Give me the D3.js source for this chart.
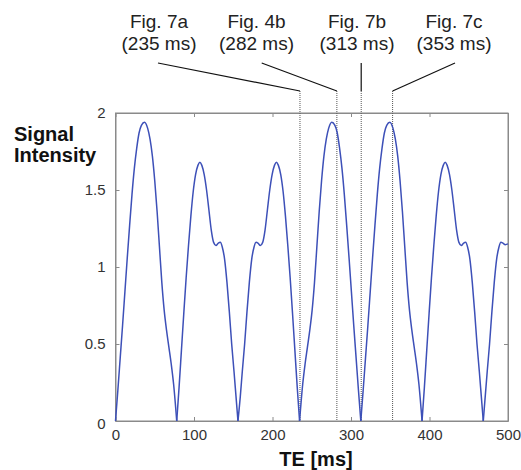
<!DOCTYPE html>
<html>
<head>
<meta charset="utf-8">
<script src="https://cdn.jsdelivr.net/npm/d3@7"></script>
<style>
  html, body { margin: 0; padding: 0; background: #fff; }
  svg { display: block; }
</style>
</head>
<body>
<svg id="chart" width="521" height="470"></svg>
<script>
// ---- data ----
const te = [
  0,3,6,9,12,15,18,21,24,27,30,33,37,41,44,47,50,53,56,59,62,65,68,71,74,78,
  81,84,87,90,93,96,99,102,105,107.5,110,113,116,119,122,125,128,131,133.5,136,139,142,145,148,151,153.5,156,
  159,161.5,164.5,167.5,170.5,173.5,176.5,179,181.5,184.5,187.5,190.5,193.5,196.5,199.5,202.5,205,207.5,210.5,213.5,216.5,219.5,222.5,225.5,228.5,231.5,234.5,
  238.5,241.5,244.5,247.5,250.5,253.5,256.5,259.5,262.5,265.5,268.5,271.5,275.5,279.5,282.5,285.5,288.5,291.5,294.5,297.5,300.5,303.5,306.5,309.5,312.5,
  315.5,318.5,321.5,324.5,327.5,330.5,333.5,336.5,339.5,342.5,345.5,349.5,353.5,356.5,359.5,362.5,365.5,368.5,371.5,374.5,377.5,380.5,383.5,386.5,390.5,
  393.5,396.5,399.5,402.5,405.5,408.5,411.5,414.5,417.5,420,422.5,425.5,428.5,431.5,434.5,437.5,440.5,443.5,446,448.5,451.5,454.5,457.5,460.5,463.5,466,468.5,
  471,473.5,476.5,479.5,482.5,485.5,488.5,491,493.5,496.5,500
];
const signal = [
  0,0.20,0.41,0.62,0.84,1.06,1.27,1.47,1.64,1.77,1.87,1.92,1.94,1.90,1.83,1.72,1.56,1.36,1.13,0.90,0.72,0.59,0.48,0.37,0.24,0,
  0.22,0.46,0.70,0.93,1.14,1.33,1.49,1.60,1.66,1.68,1.66,1.60,1.50,1.37,1.24,1.16,1.14,1.155,1.16,1.13,1.05,0.90,0.71,0.50,0.32,0.16,0,
  0.16,0.32,0.50,0.71,0.90,1.05,1.13,1.16,1.155,1.14,1.16,1.24,1.37,1.50,1.60,1.66,1.68,1.66,1.60,1.49,1.33,1.14,0.93,0.70,0.46,0.22,0,
  0.24,0.37,0.48,0.59,0.72,0.90,1.13,1.36,1.56,1.72,1.83,1.90,1.94,1.92,1.87,1.77,1.64,1.47,1.27,1.06,0.84,0.62,0.41,0.20,0,
  0.20,0.41,0.62,0.84,1.06,1.27,1.47,1.64,1.77,1.87,1.92,1.94,1.90,1.83,1.72,1.56,1.36,1.13,0.90,0.72,0.59,0.48,0.37,0.24,0,
  0.22,0.46,0.70,0.93,1.14,1.33,1.49,1.60,1.66,1.68,1.66,1.60,1.50,1.37,1.24,1.16,1.14,1.155,1.16,1.13,1.05,0.90,0.71,0.50,0.32,0.16,0,
  0.16,0.32,0.50,0.71,0.90,1.05,1.13,1.16,1.155,1.145,1.15
];
const xTicks = [0,100,200,300,400,500];
const yTicks = [0,0.5,1,1.5,2];
const yTickLabels = ["0","0.5","1","1.5","2"];
const markerTE = [235,282,313,353];
const markerFig = ["Fig. 7a","Fig. 4b","Fig. 7b","Fig. 7c"];
const markerLabel = ["(235 ms)","(282 ms)","(313 ms)","(353 ms)"];

// ---- layout ----
const svg = d3.select("#chart");
const L = 115.5, R = 508, T = 113, B = 421;
const x = d3.scaleLinear().domain([0,500]).range([L,R]);
const y = d3.scaleLinear().domain([0,2]).range([B,T]);
const axisColor = "#8a8a8a";
const textColor = "#222";
const tickFont = "15px 'Liberation Sans', Arial, sans-serif";

// frame
svg.append("rect").attr("x",L).attr("y",T).attr("width",R-L).attr("height",B-T)
  .attr("fill","none").attr("stroke",axisColor).attr("stroke-width",1);

// axes (inward ticks, mirrored)
const gx = svg.append("g").attr("transform",`translate(0,${B})`)
  .call(d3.axisBottom(x).tickValues(xTicks).tickSizeInner(-4).tickSizeOuter(0).tickPadding(8).tickFormat(d3.format("d")));
const gxt = svg.append("g").attr("transform",`translate(0,${T})`)
  .call(d3.axisTop(x).tickValues(xTicks).tickSizeInner(-4).tickSizeOuter(0).tickFormat(""));
const gy = svg.append("g").attr("transform",`translate(${L},0)`)
  .call(d3.axisLeft(y).tickValues(yTicks).tickSizeInner(-4).tickSizeOuter(0).tickPadding(10).tickFormat((d,i)=>yTickLabels[i]));
const gyr = svg.append("g").attr("transform",`translate(${R},0)`)
  .call(d3.axisRight(y).tickValues(yTicks).tickSizeInner(-4).tickSizeOuter(0).tickFormat(""));
[gx,gxt,gy,gyr].forEach(g=>{
  g.select(".domain").attr("stroke",axisColor);
  g.selectAll(".tick line").attr("stroke",axisColor);
  g.selectAll(".tick text").attr("fill","#333").style("font",tickFont);
});
gy.selectAll(".tick").filter(d=>d===0).select("text").attr("dy","0.5em");

// marker dotted lines
const lineTop = 91;
svg.append("g").selectAll("line").data(markerTE).join("line")
  .attr("x1",d=>x(d)).attr("x2",d=>x(d)).attr("y1",lineTop).attr("y2",B)
  .attr("stroke","#555").attr("stroke-width",1).attr("stroke-dasharray","1,1");

// connectors and labels
const labelCx = [159, 256.5, 357, 454];
const connStartX = [158, 261.7, x(313), 455];
svg.append("g").selectAll("line").data(markerTE).join("line")
  .attr("x1",(d,i)=>connStartX[i]).attr("y1",63)
  .attr("x2",d=>x(d)).attr("y2",lineTop)
  .attr("stroke","#111").attr("stroke-width",1.2);
const lab = svg.append("g").style("font","19px 'Liberation Sans', Arial, sans-serif").attr("fill",textColor).attr("text-anchor","middle");
markerTE.forEach((d,i)=>{
  lab.append("text").attr("x",labelCx[i]).attr("y",28).text(markerFig[i]);
  lab.append("text").attr("x",labelCx[i]).attr("y",50).text(markerLabel[i]);
});

// curve: split into lobes at zero points
const pts = te.map((t,i)=>[t,signal[i]]);
const segs = [];
let cur = [pts[0]];
for (let i=1;i<pts.length;i++){
  cur.push(pts[i]);
  if (pts[i][1]===0 && i<pts.length-1){ segs.push(cur); cur=[pts[i]]; }
}
segs.push(cur);
const line = d3.line().x(d=>x(d[0])).y(d=>y(d[1])).curve(d3.curveMonotoneX);
svg.append("g").selectAll("path").data(segs).join("path")
  .attr("d",line).attr("fill","none").attr("stroke","#3d50b8").attr("stroke-width",1.5)
  .attr("stroke-linejoin","round");

// axis titles
const bold = "bold 20px 'Liberation Sans', Arial, sans-serif";
svg.append("text").attr("x",14).attr("y",141).style("font",bold).attr("fill","#111").text("Signal");
svg.append("text").attr("x",14).attr("y",162).style("font",bold).attr("fill","#111").text("Intensity");
svg.append("text").attr("x",316).attr("y",466).attr("text-anchor","middle").style("font",bold).attr("fill","#111").text("TE [ms]");
</script>
</body>
</html>
